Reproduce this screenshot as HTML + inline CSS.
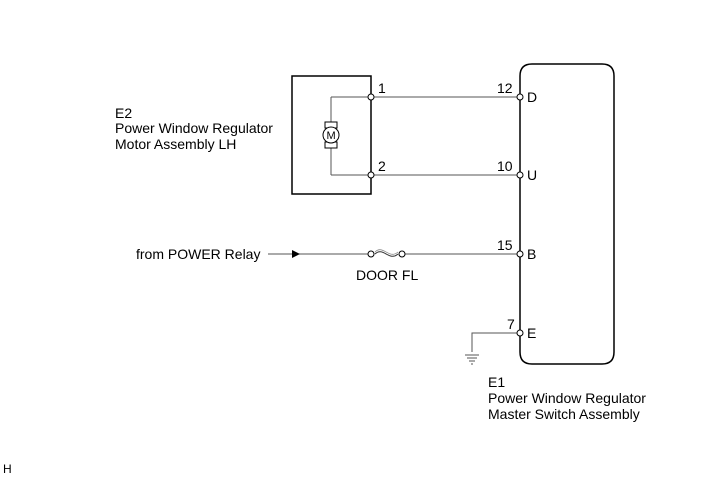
<!DOCTYPE html>
<html><head><meta charset="utf-8"><style>
html,body{margin:0;padding:0;background:#fff}
svg text{font-family:"Liberation Sans",Arial,sans-serif;font-size:14px;fill:#000}
</style></head><body>
<svg width="713" height="481" viewBox="0 0 713 481" xmlns="http://www.w3.org/2000/svg">
<rect x="292" y="76" width="79" height="118" fill="none" stroke="#000" stroke-width="1.5"/>
<path d="M532 64 H602 Q614 64 614 76 V352 Q614 364 602 364 H532 Q520 364 520 352 V76 Q520 64 532 64 Z" fill="none" stroke="#000" stroke-width="1.5"/>
<g stroke="#555" stroke-width="1" fill="none">
<path d="M371 97 H520 M371 175 H520 M331 97 H371 M331 175 H371 M331 97 V122 M331 148 V175"/>
<path d="M268 254 H370 M403 254 H520"/>
<path d="M520 333 H472 V352"/>
<path d="M465 355 H479 M467 358 H477 M469 361 H475 M471 364 H473"/>
</g>
<rect x="325" y="122" width="12" height="6" fill="#fff" stroke="#000"/>
<rect x="325" y="142" width="12" height="6" fill="#fff" stroke="#000"/>
<circle cx="331" cy="135" r="8" fill="#fff" stroke="#000"/>
<text x="326.5" y="139" style="font-size:11px">M</text>
<path d="M292 250 L300 254 L292 258 Z" fill="#000"/>
<path d="M375 254 C383 246,389 262,398 254" fill="none" stroke="#333" stroke-width="1"/>
<path d="M375 252 C383 244,389 260,398 252" fill="none" stroke="#888" stroke-width="0.8"/>
<g fill="#fff" stroke="#000" stroke-width="1">
<circle cx="371" cy="97" r="3"/><circle cx="371" cy="175" r="3"/>
<circle cx="520" cy="97" r="3"/><circle cx="520" cy="175" r="3"/>
<circle cx="520" cy="254" r="3"/><circle cx="520" cy="333" r="3"/>
<circle cx="371" cy="254" r="3"/><circle cx="402" cy="254" r="3"/>
</g>
<text x="378" y="93">1</text><text x="378" y="171">2</text>
<text x="497" y="93">12</text><text x="497" y="171">10</text>
<text x="497" y="250">15</text><text x="507" y="329">7</text>
<text x="527" y="102">D</text><text x="527" y="180">U</text>
<text x="527" y="259">B</text><text x="527" y="338">E</text>
<text x="356" y="280">DOOR FL</text>
<text x="136" y="259">from POWER Relay</text>
<text x="115" y="118">E2</text>
<text x="115" y="133">Power Window Regulator</text>
<text x="115" y="149">Motor Assembly LH</text>
<text x="488" y="387">E1</text>
<text x="488" y="403">Power Window Regulator</text>
<text x="488" y="419">Master Switch Assembly</text>
<text x="3" y="473" style="font-size:12px">H</text>
</svg>
</body></html>
